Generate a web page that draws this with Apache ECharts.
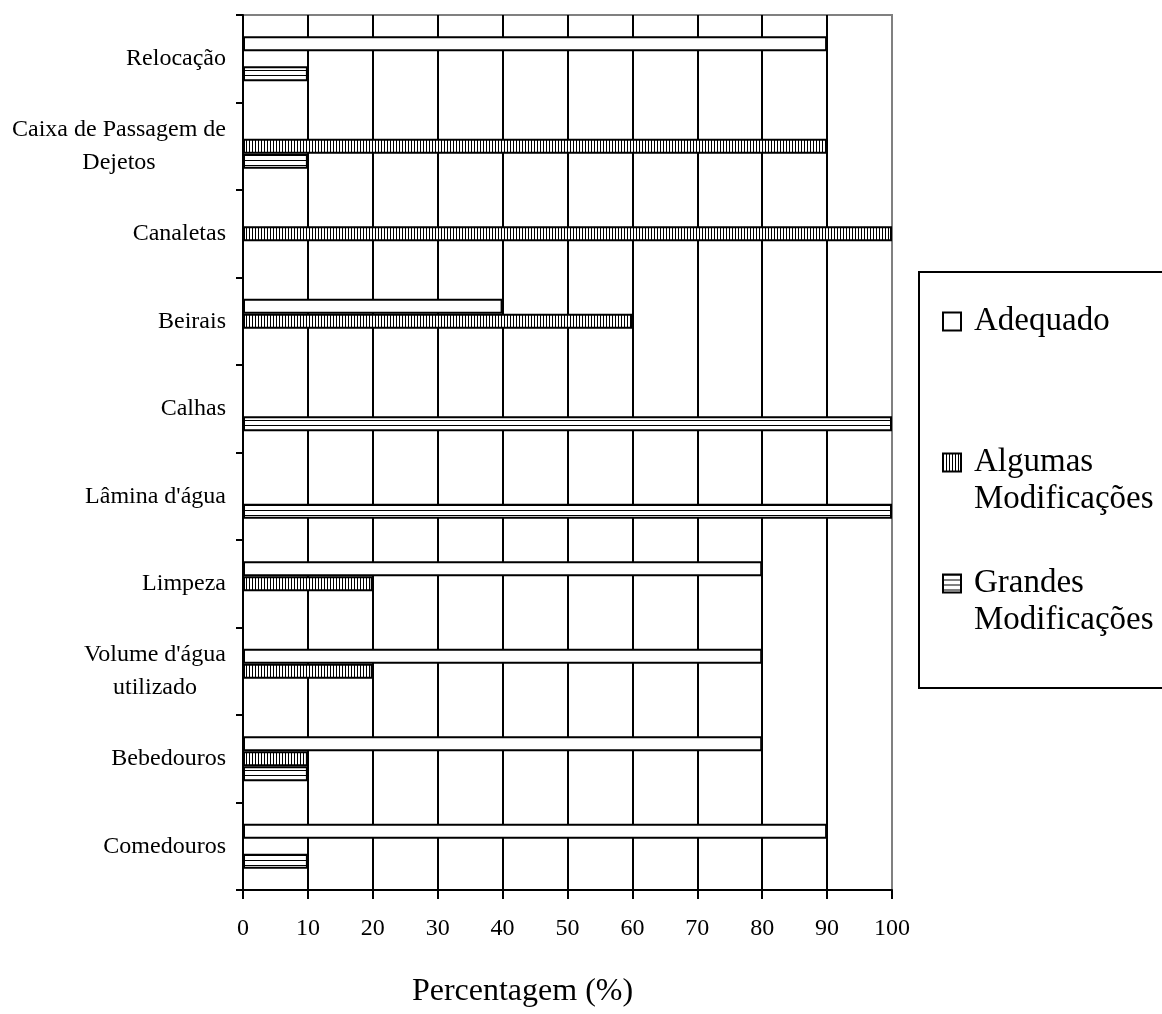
<!DOCTYPE html>
<html><head><meta charset="utf-8">
<script src="https://cdn.jsdelivr.net/npm/echarts@6/dist/echarts.min.js"></script>
<style>html,body{margin:0;padding:0;background:#fff}#c{width:1162px;height:1014px}</style>
</head><body><div id="c"></div>
<script>
// ---- data ----
const categories = ["Relocação", "Caixa de Passagem de\nDejetos", "Canaletas", "Beirais", "Calhas", "Lâmina d'água", "Limpeza", "Volume d'água\nutilizado", "Bebedouros", "Comedouros"];
const seriesNames = ["Adequado", "Algumas Modificações", "Grandes Modificações"];
const adequado = [90, 0, 0, 40, 0, 0, 80, 80, 80, 90];
const algumas  = [0, 90, 100, 60, 0, 0, 20, 20, 10, 0];
const grandes  = [10, 10, 0, 0, 100, 100, 0, 0, 10, 10];
const xMin = 0, xMax = 100, xStep = 10;
const axisTitle = "Percentagem (%)";

// ---- styles ----
const FONT = '"Liberation Serif", "Times New Roman", serif';
function pattern(w, h, draw) {
  const c = document.createElement('canvas'); c.width = w; c.height = h;
  const g = c.getContext('2d'); g.fillStyle = '#fff'; g.fillRect(0, 0, w, h);
  g.fillStyle = '#000'; draw(g); return c;
}
const vStripes = pattern(3, 1, g => g.fillRect(0, 0, 1, 1));
const hStripes = pattern(1, 5, g => g.fillRect(0, 0, 1, 1));

const labelSize = 24;
const mctx = document.createElement('canvas').getContext('2d');
mctx.font = labelSize + 'px "Liberation Serif"';
const rich = {};
categories.forEach((c, i) => {
  if (c.includes('\n')) {
    rich['l' + i] = { width: Math.ceil(Math.max(...c.split('\n').map(t => mctx.measureText(t).width))),
      align: 'center', fontSize: labelSize, fontFamily: FONT, color: '#000', lineHeight: 33 };
  }
});

const barStyle = (fill) => ({ color: fill, borderColor: '#000', borderWidth: 2 });
const legendText = { fontSize: 33, fontFamily: FONT, color: '#000', lineHeight: 37, padding: [0, 0, 0, 8] };

const chart = echarts.init(document.getElementById('c'), null, { renderer: 'canvas' });
chart.setOption({
  animation: false,
  backgroundColor: '#fff',
  grid: { left: 243, right: 270, top: 15, bottom: 124, show: true, borderColor: '#808080', borderWidth: 2, backgroundColor: 'transparent' },
  xAxis: {
    type: 'value', min: xMin, max: xMax, interval: xStep,
    axisLine: { show: true, lineStyle: { color: '#000', width: 2 } },
    axisTick: { show: true, length: 9, lineStyle: { color: '#000', width: 2 } },
    axisLabel: { fontSize: 24, fontFamily: FONT, color: '#000', margin: 27 },
    splitLine: { show: true, showMinLine: false, showMaxLine: false, lineStyle: { color: '#000', width: 2 } },
    name: axisTitle, nameLocation: 'middle', nameGap: 86,
    nameTextStyle: { fontSize: 32, fontFamily: FONT, color: '#000', padding: [0, 90, 0, 0] }
  },
  yAxis: {
    type: 'category', inverse: true, data: categories,
    axisLine: { show: true, lineStyle: { color: '#000', width: 2 } },
    axisTick: { show: true, length: 7, lineStyle: { color: '#000', width: 2 } },
    axisLabel: { fontSize: labelSize, fontFamily: FONT, color: '#000', margin: 17, rich: rich,
      formatter: (v, i) => v.includes('\n') ? v.split('\n').map(t => '{l' + i + '|' + t + '}').join('\n') : v },
    splitLine: { show: false }
  },
  legend: [
    { data: [seriesNames[0]], orient: 'vertical', left: 919, top: 272, padding: [31, 120, 348, 23],
      borderColor: '#000', borderWidth: 2, backgroundColor: '#fff', selectedMode: false,
      icon: 'rect', itemWidth: 18, itemHeight: 18, itemStyle: { borderColor: '#000', borderWidth: 2 },
      textStyle: legendText },
    { data: [seriesNames[1], seriesNames[2]], orient: 'vertical', left: 942, top: 407, padding: 0, itemGap: 10,
      selectedMode: false, icon: 'rect', itemWidth: 18, itemHeight: 18, itemStyle: { borderColor: '#000', borderWidth: 2 },
      formatter: n => '\n' + n.replace(' ', '\n'),
      textStyle: legendText }
  ],
  series: [
    { name: seriesNames[0], type: 'bar', data: adequado, barWidth: 15, barGap: '0%', itemStyle: barStyle('#fff') },
    { name: seriesNames[1], type: 'bar', data: algumas, barWidth: 15, barGap: '0%', itemStyle: barStyle({ image: vStripes, repeat: 'repeat' }) },
    { name: seriesNames[2], type: 'bar', data: grandes, barWidth: 15, barGap: '0%', itemStyle: barStyle({ image: hStripes, repeat: 'repeat' }) }
  ]
});
</script></body></html>
